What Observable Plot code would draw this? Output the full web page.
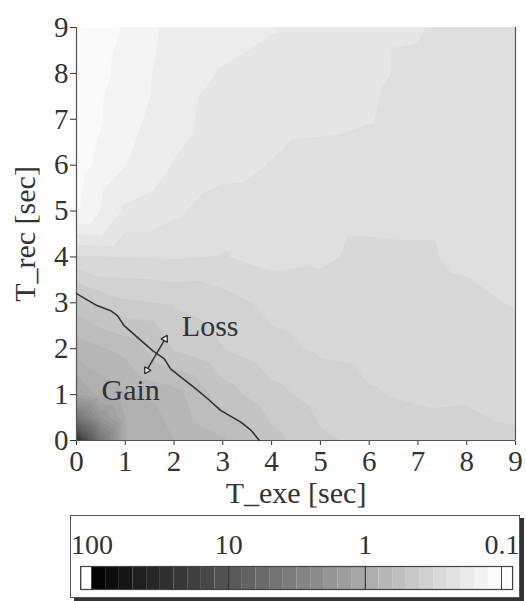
<!DOCTYPE html>
<html><head><meta charset="utf-8">
<script src="https://cdn.jsdelivr.net/npm/d3@7"></script>
<script src="https://cdn.jsdelivr.net/npm/@observablehq/plot@0.6"></script>
<style>
body{margin:0;background:#fff;}
#wrap{position:relative;width:526px;height:601px;overflow:hidden;background:#fff;}
#main{position:absolute;left:0;top:0;}
#legend{position:absolute;left:70px;top:515px;width:448px;height:81px;border:1.5px solid #555;box-shadow:4px 3px 0 #333;background:#fff;}
svg{overflow:visible;}
</style></head><body><div id="wrap"><div id="main"></div><div id="legend"></div></div>
<script>
// grid positions
const tExe = [0,1,2,3,4,5,6,7,8,9];
const tRec = [0,1,2,3,4,5,6,7,8,9];
// log10 of the plotted value, one row per T_rec (0..9), columns T_exe 0..9
const rec0 = [1.529,-0.024,-0.106,-0.176,-0.318,-0.412,-0.447,-0.465,-0.476,-0.500];
const rec1 = [0.059,-0.094,-0.153,-0.306,-0.400,-0.459,-0.500,-0.518,-0.515,-0.518];
const rec2 = [-0.141,-0.212,-0.353,-0.424,-0.482,-0.518,-0.529,-0.535,-0.535,-0.541];
const rec3 = [-0.306,-0.412,-0.435,-0.471,-0.529,-0.547,-0.547,-0.547,-0.559,-0.594];
const rec4 = [-0.576,-0.588,-0.594,-0.582,-0.612,-0.600,-0.565,-0.571,-0.606,-0.612];
const rec5 = [-0.918,-0.729,-0.682,-0.616,-0.612,-0.612,-0.612,-0.612,-0.612,-0.612];
const rec6 = [-0.941,-0.829,-0.741,-0.700,-0.662,-0.629,-0.624,-0.624,-0.618,-0.612];
const rec7 = [-0.965,-0.858,-0.772,-0.712,-0.694,-0.688,-0.671,-0.624,-0.612,-0.612];
const rec8 = [-0.965,-0.882,-0.780,-0.740,-0.706,-0.694,-0.682,-0.647,-0.612,-0.612];
const rec9 = [-0.965,-0.900,-0.794,-0.776,-0.753,-0.682,-0.682,-0.676,-0.612,-0.612];
// extra samples read near the dark corner
const cornerExe = [0.5, 0,   0.5,  1,     0.5,   0.25, 0];
const cornerRec = [0,   0.5, 0.5,  0.5,   1,     0,    0.25];
const cornerVal = [0.62,0.62,0.22,-0.03,-0.05, 1.0,  1.0];

// Gain / Loss boundary line
const lineExe = [0,0.42,0.70,0.84,0.97,1.32,1.56,1.80,1.93,2.14,2.41,2.69,2.96,3.37,3.58,3.75];
const lineRec = [3.20,2.94,2.83,2.72,2.51,2.18,1.96,1.78,1.56,1.38,1.16,0.91,0.65,0.40,0.22,0.0];

// annotations
const annotText = ["Loss","Gain"];
const annotExe = [2.74,1.11];
const annotRec = [2.48,1.09];
const arrowExe = [1.40,1.86];
const arrowRec = [1.455,2.29];

// legend
const legendValues = [100,10,1,0.1];
const legendLabels = ["100","10","1","0.1"];

const rows = [rec0,rec1,rec2,rec3,rec4,rec5,rec6,rec7,rec8,rec9];
const field = tRec.flatMap((y,j)=>tExe.map((x,i)=>({x, y, v: rows[j][i]})))
  .concat(cornerExe.map((x,i)=>({x, y: cornerRec[i], v: cornerVal[i]})));
const thresholds = d3.range(-0.986, 1.7, 0.08);
const serif = "'Liberation Serif','Times New Roman',serif";

function hollowHead(color) {
  const m = d3.create("svg:marker")
    .attr("viewBox","-6 -6 12 12").attr("markerWidth",12).attr("markerHeight",12)
    .attr("markerUnits","userSpaceOnUse").attr("refX",1).attr("refY",0)
    .attr("orient","auto-start-reverse");
  m.append("path").attr("d","M-5,-3.6L1,0L-5,3.6Z").attr("fill","white").attr("stroke",color).attr("stroke-width",1.4);
  return m.node();
}

const main = Plot.plot({
  width: 526, height: 515,
  marginTop: 27, marginBottom: 75, marginLeft: 76, marginRight: 11,
  style: {fontFamily: serif, fontSize: "29px", color: "#333", background: "white"},
  x: {domain:[0,9], ticks: tExe, tickSize: 5, tickPadding: 5, tickFormat: d=>String(d), label: null},
  y: {domain:[0,9], ticks: tRec, tickSize: 6, tickPadding: 2, tickFormat: d=>String(d), label: null},
  color: {type:"linear", domain:[-1.04,1.96], range:["white","black"], interpolate:"rgb"},
  marks: [
    Plot.contour(field, {x:"x", y:"y", fill:"v", interpolate:"barycentric", thresholds, pixelSize: 1}),
    Plot.ruleX([0,9], {stroke:"#555", strokeWidth:1.2}),
    Plot.ruleY([0], {stroke:"#555", strokeWidth:1.2}),
    Plot.line(lineExe.map((x,i)=>({x, y: lineRec[i]})), {x:"x", y:"y", stroke:"#333", strokeWidth:1.6}),
    Plot.link([{x1: arrowExe[0], y1: arrowRec[0], x2: arrowExe[1], y2: arrowRec[1]}], {x1:"x1", y1:"y1", x2:"x2", y2:"y2", stroke:"#333", strokeWidth:1.5, markerStart: hollowHead, markerEnd: hollowHead}),
    Plot.text(annotText.map((t,i)=>({t, x: annotExe[i], y: annotRec[i]})), {x:"x", y:"y", text:"t", fontSize:30, fill:"#333"}),
    Plot.text(["T_exe [sec]"], {frameAnchor:"bottom", textAnchor:"middle", lineAnchor:"middle", dy:53, fontSize:30, fill:"#333"}),
    Plot.text(["T_rec [sec]"], {frameAnchor:"left", textAnchor:"middle", lineAnchor:"middle", rotate:-90, dx:-51, fontSize:30, fill:"#333"})
  ]
});
document.getElementById("main").append(main);

const bins = d3.range(30).map(i=>({lo: -1 + 0.1*i, hi: -1 + 0.1*(i+1)}));
const legend = Plot.plot({
  width: 448, height: 81, margin: 0,
  style: {fontFamily: serif, fontSize: "28px", color: "#333", background: "white"},
  x: {type:"log", domain:[100,0.1], range:[20.5,430.5], axis: null},
  y: {domain:[0,81], range:[0,81], axis: null},
  color: {type:"linear", domain:[-1,2], range:["white","black"], interpolate:"rgb"},
  marks: [
    Plot.rect(bins, {x1: d=>10**d.hi, x2: d=>10**d.lo, y1: 50.5, y2: 73.5, fill: d=>(d.lo+d.hi)/2, inset: 0}),
    Plot.rect([{a:120,b:100},{a:0.1,b:0.083}], {x1:"a", x2:"b", y1:50.5, y2:73.5, fill:"white", stroke:"#444", inset:0}),
    Plot.rect([{a:120,b:0.083}], {x1:"a", x2:"b", y1:50.5, y2:73.5, fill:"none", stroke:"#444", strokeWidth:1.2, inset:0}),
    Plot.ruleX([10,1], {y1:50.5, y2:73.5, stroke:"#333", strokeWidth:1.2}),
    Plot.text(legendValues, {x: d=>d, y: 29, text: (d,i)=>legendLabels[i], fontSize:28, fill:"#333"})
  ]
});
document.getElementById("legend").append(legend);
</script>
</body></html>
